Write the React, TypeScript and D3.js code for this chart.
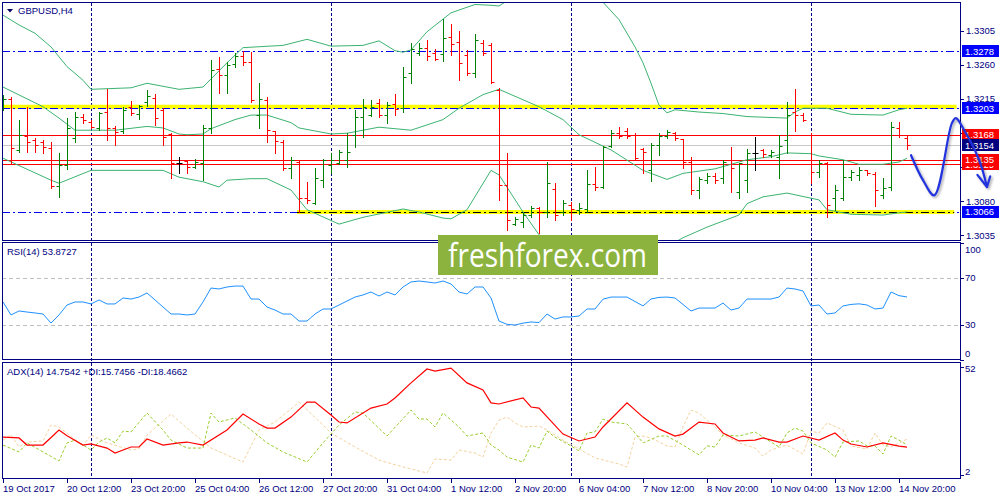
import React, { useEffect, useRef } from 'react';
import * as d3 from 'd3';

type Pt = [number, number];

// ---- data ----
const timeLabels = ['19 Oct 2017', '20 Oct 12:00', '23 Oct 20:00', '25 Oct 04:00', '26 Oct 12:00', '27 Oct 20:00', '31 Oct 04:00', '1 Nov 12:00', '2 Nov 20:00', '6 Nov 04:00', '7 Nov 12:00', '8 Nov 20:00', '10 Nov 04:00', '13 Nov 12:00', '14 Nov 20:00'];
const timeLabelBars = [0, 8, 16, 24, 32, 40, 48, 56, 64, 72, 80, 88, 96, 104, 112];
const weekStartBars = [11, 41, 71, 101];

const opens = [1.3206, 1.3215, 1.3148, 1.3166, 1.3161, 1.3158, 1.3150, 1.3100, 1.3128, 1.3164, 1.3191, 1.3185, 1.3177, 1.3198, 1.3177, 1.3173, 1.3205, 1.3195, 1.3211, 1.3217, 1.3201, 1.3169, 1.3131, 1.3133, 1.3125, 1.3131, 1.3177, 1.3255, 1.3247, 1.3261, 1.3272, 1.3264, 1.3194, 1.3214, 1.3173, 1.3158, 1.3124, 1.3132, 1.3085, 1.3078, 1.3108, 1.3128, 1.3131, 1.3135, 1.3168, 1.3191, 1.3194, 1.3210, 1.3194, 1.3209, 1.3203, 1.3250, 1.3276, 1.3282, 1.3276, 1.3275, 1.3297, 1.3290, 1.3273, 1.3249, 1.3289, 1.3286, 1.3227, 1.3102, 1.3050, 1.3053, 1.3062, 1.3071, 1.3066, 1.3097, 1.3066, 1.3075, 1.3069, 1.3070, 1.3103, 1.3099, 1.3153, 1.3170, 1.3173, 1.3168, 1.3149, 1.3121, 1.3154, 1.3166, 1.3170, 1.3163, 1.3132, 1.3095, 1.3108, 1.3114, 1.3111, 1.3135, 1.3092, 1.3108, 1.3144, 1.3148, 1.3141, 1.3139, 1.3161, 1.3198, 1.3194, 1.3168, 1.3119, 1.3131, 1.3085, 1.3085, 1.3112, 1.3115, 1.3121, 1.3116, 1.3088, 1.3099, 1.3177, 1.3164];
const highs = [1.3220, 1.3218, 1.3188, 1.3205, 1.3164, 1.3161, 1.3158, 1.3144, 1.3190, 1.3198, 1.3195, 1.3188, 1.3198, 1.3228, 1.3180, 1.3205, 1.3213, 1.3207, 1.3227, 1.3222, 1.3203, 1.3170, 1.3139, 1.3135, 1.3136, 1.3181, 1.3267, 1.3271, 1.3264, 1.3276, 1.3279, 1.3277, 1.3236, 1.3218, 1.3173, 1.3161, 1.3139, 1.3135, 1.3106, 1.3124, 1.3136, 1.3144, 1.3148, 1.3170, 1.3201, 1.3215, 1.3214, 1.3215, 1.3211, 1.3222, 1.3257, 1.3289, 1.3289, 1.3293, 1.3281, 1.3321, 1.3314, 1.3305, 1.3280, 1.3301, 1.3293, 1.3289, 1.3230, 1.3144, 1.3059, 1.3065, 1.3074, 1.3073, 1.3132, 1.3104, 1.3082, 1.3079, 1.3078, 1.3121, 1.3125, 1.3153, 1.3174, 1.3178, 1.3177, 1.3170, 1.3150, 1.3157, 1.3170, 1.3174, 1.3172, 1.3163, 1.3139, 1.3112, 1.3118, 1.3118, 1.3135, 1.3152, 1.3131, 1.3149, 1.3165, 1.3149, 1.3148, 1.3168, 1.3211, 1.3228, 1.3197, 1.3170, 1.3135, 1.3132, 1.3102, 1.3135, 1.3121, 1.3125, 1.3122, 1.3119, 1.3111, 1.3185, 1.3185, 1.3168];
const lows = [1.3201, 1.3131, 1.3145, 1.3145, 1.3145, 1.3144, 1.3098, 1.3086, 1.3123, 1.3158, 1.3184, 1.3177, 1.3174, 1.3161, 1.3154, 1.3170, 1.3194, 1.3189, 1.3206, 1.3181, 1.3154, 1.3111, 1.3118, 1.3118, 1.3124, 1.3108, 1.3170, 1.3223, 1.3223, 1.3257, 1.3260, 1.3211, 1.3177, 1.3158, 1.3144, 1.3122, 1.3111, 1.3066, 1.3078, 1.3077, 1.3099, 1.3118, 1.3130, 1.3125, 1.3152, 1.3165, 1.3193, 1.3191, 1.3184, 1.3194, 1.3198, 1.3236, 1.3273, 1.3267, 1.3267, 1.3265, 1.3273, 1.3240, 1.3247, 1.3244, 1.3273, 1.3236, 1.3082, 1.3042, 1.3049, 1.3046, 1.3059, 1.3038, 1.3059, 1.3055, 1.3062, 1.3055, 1.3063, 1.3066, 1.3095, 1.3098, 1.3152, 1.3164, 1.3164, 1.3136, 1.3118, 1.3107, 1.3141, 1.3164, 1.3161, 1.3124, 1.3090, 1.3085, 1.3104, 1.3104, 1.3104, 1.3093, 1.3085, 1.3093, 1.3122, 1.3139, 1.3139, 1.3111, 1.3144, 1.3173, 1.3186, 1.3104, 1.3112, 1.3059, 1.3069, 1.3082, 1.3108, 1.3108, 1.3115, 1.3074, 1.3085, 1.3095, 1.3165, 1.3149];
const closes = [1.3215, 1.3150, 1.3168, 1.3158, 1.3154, 1.3152, 1.3100, 1.3128, 1.3177, 1.3191, 1.3188, 1.3178, 1.3197, 1.3177, 1.3172, 1.3201, 1.3197, 1.3206, 1.3219, 1.3190, 1.3165, 1.3131, 1.3131, 1.3125, 1.3132, 1.3177, 1.3253, 1.3247, 1.3260, 1.3272, 1.3264, 1.3214, 1.3215, 1.3174, 1.3160, 1.3124, 1.3135, 1.3085, 1.3082, 1.3111, 1.3135, 1.3135, 1.3145, 1.3145, 1.3191, 1.3205, 1.3205, 1.3194, 1.3207, 1.3202, 1.3244, 1.3281, 1.3282, 1.3272, 1.3268, 1.3296, 1.3288, 1.3263, 1.3249, 1.3293, 1.3276, 1.3237, 1.3102, 1.3055, 1.3057, 1.3062, 1.3071, 1.3066, 1.3104, 1.3062, 1.3078, 1.3070, 1.3071, 1.3103, 1.3099, 1.3152, 1.3170, 1.3166, 1.3166, 1.3137, 1.3145, 1.3154, 1.3166, 1.3172, 1.3164, 1.3132, 1.3095, 1.3110, 1.3114, 1.3108, 1.3132, 1.3124, 1.3131, 1.3144, 1.3144, 1.3143, 1.3145, 1.3153, 1.3194, 1.3194, 1.3188, 1.3119, 1.3131, 1.3075, 1.3095, 1.3112, 1.3119, 1.3121, 1.3118, 1.3095, 1.3098, 1.3178, 1.3168, 1.3154];

// Bollinger bands, sampled as [bar, price]
const bbUpper: Pt[] = [[0, 1.3326], [2, 1.3313], [4, 1.3302], [6, 1.3284], [8, 1.3258], [10, 1.3240], [11, 1.3228], [16, 1.3230], [18, 1.3236], [20, 1.3232], [22, 1.3228], [25, 1.3231], [28, 1.3263], [30, 1.3283], [35, 1.3286], [38, 1.3294], [41, 1.3285], [45, 1.3286], [47, 1.3292], [49, 1.3279], [50, 1.3277], [51, 1.3280], [53, 1.3304], [56, 1.3329], [59, 1.3340], [61, 1.3339], [62, 1.3338], [64, 1.3352], [67, 1.3362], [70, 1.3366], [73, 1.3358], [75, 1.3343], [77, 1.3320], [79, 1.3284], [80, 1.3263], [81, 1.3236], [82, 1.3207], [83, 1.3197], [84, 1.3201], [87, 1.3198], [90, 1.3196], [93, 1.3192], [98, 1.3190], [99, 1.3198], [100, 1.3203], [103, 1.3203], [106, 1.3195], [110, 1.3194], [112, 1.3201], [113, 1.3203]];
const bbMiddle: Pt[] = [[0, 1.3231], [5, 1.3205], [7, 1.3190], [9, 1.3174], [11, 1.3174], [14, 1.3174], [18, 1.3179], [20, 1.3177], [22, 1.3169], [23, 1.3168], [25, 1.3169], [26, 1.3176], [29, 1.3188], [31, 1.3194], [33, 1.3194], [36, 1.3184], [37, 1.3177], [41, 1.3169], [43, 1.3170], [47, 1.3178], [51, 1.3174], [55, 1.3188], [57, 1.3203], [60, 1.3221], [62, 1.3228], [67, 1.3205], [70, 1.3188], [72, 1.3168], [76, 1.3148], [80, 1.3121], [83, 1.3109], [85, 1.3117], [89, 1.3123], [93, 1.3135], [96, 1.3139], [98, 1.3144], [101, 1.3143], [102, 1.3140], [105, 1.3135], [107, 1.3129], [110, 1.3129], [112, 1.3132], [113, 1.3137]];
const bbLower: Pt[] = [[0, 1.3137], [6, 1.3108], [7, 1.3104], [11, 1.3121], [20, 1.3121], [22, 1.3112], [25, 1.3106], [27, 1.3099], [28, 1.3108], [31, 1.3110], [33, 1.3110], [36, 1.3095], [38, 1.3069], [42, 1.3050], [45, 1.3059], [50, 1.3070], [52, 1.3066], [55, 1.3058], [56, 1.3057], [58, 1.3069], [61, 1.3121], [62, 1.3115], [65, 1.3066], [67, 1.3036], [70, 1.3008], [75, 1.2965], [80, 1.2980], [83, 1.3020], [85, 1.3032], [88, 1.3046], [92, 1.3062], [93, 1.3077], [95, 1.3086], [98, 1.3091], [102, 1.3082], [103, 1.3069], [106, 1.3063], [110, 1.3062], [112, 1.3065], [113, 1.3066]];

// RSI(14), one value per bar
const rsi = [49.6, 38.5, 41.9, 41.0, 40.2, 39.3, 31.6, 38.5, 47.0, 49.6, 49.6, 47.9, 51.3, 47.9, 47.9, 53.0, 52.1, 53.8, 57.3, 51.3, 45.3, 39.3, 39.3, 38.5, 39.3, 49.6, 61.5, 60.7, 62.4, 63.2, 63.2, 52.1, 52.1, 45.3, 42.7, 39.3, 39.3, 33.3, 33.3, 39.3, 43.6, 43.6, 47.0, 50.4, 53.8, 55.6, 58.1, 54.7, 58.1, 55.6, 62.4, 66.7, 67.5, 66.7, 65.8, 67.5, 65.0, 58.1, 56.4, 62.4, 62.4, 53.0, 33.3, 30.5, 29.9, 31.5, 32.5, 32.0, 39.3, 35.0, 36.8, 36.8, 37.6, 43.6, 43.6, 52.0, 53.8, 53.8, 53.8, 50.0, 46.2, 52.1, 53.5, 53.8, 53.0, 47.5, 41.9, 44.4, 44.4, 44.4, 48.7, 42.7, 44.4, 52.1, 52.1, 52.1, 52.1, 53.8, 61.5, 60.7, 59.0, 46.2, 47.0, 39.3, 40.2, 46.2, 47.5, 48.0, 47.0, 43.6, 44.4, 58.1, 55.0, 53.87];
const rsiLevels = [70, 30];
const rsiAxis = [100, 70, 30, 0];

// ADX(14), sampled as [bar, value]
const adx: Pt[] = [[0, 19.4], [2, 19.0], [3, 15.7], [5, 15.7], [7, 22.7], [8, 20.0], [10, 15.7], [11, 16.2], [13, 14.3], [14, 12.0], [16, 14.8], [17, 14.8], [18, 18.5], [20, 15.7], [22, 16.7], [23, 17.1], [25, 15.7], [28, 22.7], [30, 30.1], [32, 25.5], [33, 23.6], [34, 23.6], [36, 28.7], [38, 35.7], [39, 35.7], [41, 29.7], [42, 26.4], [43, 26.0], [46, 32.9], [48, 34.8], [49, 37.6], [51, 44.6], [53, 51.1], [54, 50.1], [56, 51.5], [58, 44.6], [60, 41.3], [61, 35.3], [62, 34.8], [65, 37.6], [66, 33.4], [67, 32.9], [70, 20.8], [72, 17.6], [74, 19.4], [75, 24.1], [78, 35.3], [80, 28.7], [82, 23.2], [84, 19.9], [85, 20.8], [87, 26.4], [89, 25.5], [90, 21.3], [92, 17.6], [94, 18.0], [95, 19.0], [97, 17.1], [98, 17.1], [100, 19.9], [102, 18.0], [104, 21.3], [105, 18.0], [106, 16.2], [108, 14.8], [110, 16.7], [112, 15.2], [113, 14.75]];
const plusDI: Pt[] = [[0, 15.7], [2, 12.5], [3, 16.7], [5, 12.5], [7, 8.3], [8, 16.7], [9, 18.0], [11, 13.4], [12, 17.1], [13, 19.0], [14, 16.7], [15, 22.2], [16, 21.8], [18, 30.6], [20, 22.7], [21, 18.0], [23, 14.3], [25, 14.3], [26, 30.6], [27, 26.4], [29, 28.3], [31, 22.7], [33, 16.7], [35, 12.5], [38, 7.8], [40, 16.7], [42, 25.0], [44, 31.1], [45, 30.6], [48, 19.9], [51, 32.0], [52, 27.8], [53, 27.8], [54, 24.1], [55, 30.6], [57, 24.1], [58, 19.9], [60, 21.3], [61, 15.7], [62, 13.4], [63, 10.1], [65, 7.8], [66, 15.7], [67, 14.3], [68, 22.2], [69, 19.4], [71, 15.3], [72, 13.0], [73, 21.3], [74, 21.8], [75, 27.8], [76, 26.4], [78, 25.5], [79, 21.3], [80, 16.7], [82, 19.9], [83, 19.9], [85, 15.7], [87, 11.1], [88, 15.3], [89, 14.8], [90, 20.4], [92, 19.9], [94, 21.8], [95, 19.4], [97, 14.8], [98, 21.3], [99, 23.6], [100, 22.2], [101, 16.7], [103, 13.4], [104, 10.1], [105, 17.1], [107, 17.6], [108, 15.3], [109, 15.3], [110, 11.5], [111, 19.9], [112, 18.0], [113, 15.75]];
const minusDI: Pt[] = [[0, 18.0], [1, 20.4], [2, 14.8], [3, 17.1], [5, 17.6], [6, 25.0], [7, 24.1], [10, 15.3], [11, 20.4], [13, 16.7], [16, 13.4], [17, 13.9], [18, 20.4], [21, 30.1], [24, 20.4], [25, 17.6], [26, 14.3], [30, 7.8], [32, 22.7], [34, 26.4], [36, 32.5], [37, 35.7], [40, 25.0], [41, 21.3], [44, 14.8], [47, 8.7], [50, 5.5], [53, 2.7], [54, 9.2], [56, 8.7], [57, 13.4], [59, 12.0], [60, 10.1], [61, 21.3], [62, 27.3], [63, 28.7], [64, 26.0], [65, 24.1], [67, 24.5], [68, 22.7], [70, 18.0], [72, 13.9], [74, 9.7], [77, 6.9], [78, 5.5], [79, 19.4], [80, 19.9], [81, 19.0], [83, 15.3], [84, 14.8], [85, 24.1], [86, 32.0], [87, 30.6], [89, 24.1], [90, 20.4], [92, 16.7], [94, 14.3], [95, 10.6], [96, 13.4], [98, 15.7], [100, 11.5], [101, 22.2], [102, 21.3], [103, 26.0], [105, 22.7], [106, 15.3], [108, 13.9], [109, 21.3], [110, 15.7], [111, 14.8], [113, 18.47]];
const adxAxis = [52, 2];

// price axis and chart objects
const priceTicks = [1.3305, 1.3260, 1.3215, 1.3170, 1.3125, 1.3080, 1.3035];
const blueLevels = [1.3278, 1.3203, 1.3066];
const redLevels = [1.3129, 1.3135, 1.3168];
const bidPrice = 1.3154;
const zonePrices = [1.3205, 1.3066];
const zoneFromBars = [-1, 37];
const zoneToBars = [119.2, 118.9];
// hand-drawn forecast arrow, as [bar, price]
const forecast: Pt[] = [[113.5, 1.3141], [115, 1.3108], [116.4, 1.3088], [118.6, 1.3183], [119.1, 1.3190], [120.1, 1.3175], [122, 1.3135], [123, 1.3099]];
const forecastHead: Pt[] = [[121.8, 1.3115], [123, 1.3099], [123.4, 1.3113]];

const App: React.FC = () => {
  const svgRef = useRef<SVGSVGElement>(null);

  useEffect(() => {
    if (!svgRef.current) return;
    const svg = d3.select(svgRef.current);
    svg.selectAll('*').remove();

    const navy = '#000080';
    const font = "'Liberation Sans', Tahoma, Arial, sans-serif";
    const crisp = (v: number) => Math.round(v) + 0.5;
    const L = 2, R = 960;

    const x = d3.scaleLinear().domain([0, 113]).range([3, 907]);
    const yP = d3.scaleLinear().domain([1.3305, 1.3066]).range([31, 212]);
    const yR = d3.scaleLinear().domain([0, 100]).range([360, 243]);
    const yA = d3.scaleLinear().domain([2, 52]).range([474.5, 367]);

    const defs = svg.append('defs');
    const panes = [
      { id: 'cMain', top: 2, bottom: 240 },
      { id: 'cRsi', top: 242, bottom: 359 },
      { id: 'cAdx', top: 362, bottom: 478 },
    ];
    panes.forEach(p => {
      defs.append('clipPath').attr('id', p.id)
        .append('rect').attr('x', L + 1).attr('y', p.top + 1)
        .attr('width', R - L - 1).attr('height', p.bottom - p.top - 1);
    });
    defs.append('filter').attr('id', 'soft')
      .attr('x', '-5%').attr('y', '-300%').attr('width', '110%').attr('height', '700%')
      .append('feGaussianBlur').attr('stdDeviation', 1.8);
    defs.append('filter').attr('id', 'pen')
      .attr('x', '-50%').attr('y', '-20%').attr('width', '200%').attr('height', '140%')
      .append('feDropShadow').attr('dx', 1.5).attr('dy', 1.5).attr('stdDeviation', 1)
      .attr('flood-color', '#000').attr('flood-opacity', 0.35);

    svg.append('rect').attr('width', 1000).attr('height', 500).attr('fill', '#fff');

    // week separators through all panes
    svg.append('g').selectAll('line').data(weekStartBars).join('line')
      .attr('x1', d => crisp(x(d))).attr('x2', d => crisp(x(d)))
      .attr('y1', 3).attr('y2', 478)
      .attr('stroke', navy).attr('stroke-dasharray', '3,2');

    // ---------- main pane ----------
    const main = svg.append('g').attr('clip-path', 'url(#cMain)');

    main.selectAll('line.red').data(redLevels).join('line').attr('class', 'red')
      .attr('x1', L).attr('x2', R)
      .attr('y1', d => crisp(yP(d))).attr('y2', d => crisp(yP(d)))
      .attr('stroke', '#ff0000');
    main.append('line').attr('x1', L).attr('x2', R)
      .attr('y1', crisp(yP(bidPrice))).attr('y2', crisp(yP(bidPrice)))
      .attr('stroke', '#c8c8c8');
    main.selectAll('line.blue').data(blueLevels).join('line').attr('class', 'blue')
      .attr('x1', L).attr('x2', R)
      .attr('y1', d => crisp(yP(d))).attr('y2', d => crisp(yP(d)))
      .attr('stroke', '#0000ee').attr('stroke-dasharray', '8,3,2,3');

    // yellow highlighted levels with a soft shadow
    zonePrices.forEach((p, i) => {
      const x1 = Math.max(L, x(zoneFromBars[i]) - 2);
      const x2 = x(zoneToBars[i]);
      const yy = yP(p);
      svg.append('line').attr('x1', x1).attr('x2', x2).attr('y1', yy + 3).attr('y2', yy + 3)
        .attr('stroke', '#555').attr('stroke-width', 5).attr('opacity', 0.55).attr('filter', 'url(#soft)');
      svg.append('line').attr('x1', x1).attr('x2', x2).attr('y1', yy).attr('y2', yy)
        .attr('stroke', '#ffff00').attr('stroke-width', 4);
    });
    // dash-dot on top of the yellow
    svg.append('line').attr('x1', L).attr('x2', R)
      .attr('y1', crisp(yP(1.3203))).attr('y2', crisp(yP(1.3203)))
      .attr('stroke', '#0000ee').attr('stroke-dasharray', '8,3,2,3');
    svg.append('line').attr('x1', x(zoneFromBars[1]) - 2).attr('x2', x(zoneToBars[1]))
      .attr('y1', crisp(yP(zonePrices[1]))).attr('y2', crisp(yP(zonePrices[1])))
      .attr('stroke', '#000').attr('stroke-dasharray', '8,3,2,3');

    const main2 = svg.append('g').attr('clip-path', 'url(#cMain)');
    const bbLine = d3.line<Pt>().x(d => x(d[0])).y(d => yP(d[1]));
    [bbUpper, bbMiddle, bbLower].forEach(s => {
      main2.append('path').attr('d', bbLine(s) || '')
        .attr('fill', 'none').attr('stroke', '#3cb371').attr('stroke-width', 1);
    });

    const bars = d3.range(opens.length).map(i => ({ i, o: opens[i], h: highs[i], l: lows[i], c: closes[i] }));
    const colorOf = (b: { o: number; c: number }) => (b.c > b.o ? '#008000' : b.c < b.o ? '#ff0000' : '#000000');
    const bg = main2.selectAll('g.bar').data(bars).join('g').attr('class', 'bar')
      .attr('stroke', d => colorOf(d)).attr('stroke-width', 1);
    bg.append('line')
      .attr('x1', d => x(d.i) + 0.5).attr('x2', d => x(d.i) + 0.5)
      .attr('y1', d => Math.round(yP(d.h))).attr('y2', d => Math.round(yP(d.l)) + 1);
    bg.append('line')
      .attr('x1', d => x(d.i) - 2.5).attr('x2', d => x(d.i) + 0.5)
      .attr('y1', d => crisp(yP(d.o))).attr('y2', d => crisp(yP(d.o)));
    bg.append('line')
      .attr('x1', d => x(d.i) + 0.5).attr('x2', d => x(d.i) + 3.5)
      .attr('y1', d => crisp(yP(d.c))).attr('y2', d => crisp(yP(d.c)));

    // ---------- RSI pane ----------
    const rsiG = svg.append('g').attr('clip-path', 'url(#cRsi)');
    rsiG.selectAll('line').data(rsiLevels).join('line')
      .attr('x1', L).attr('x2', R)
      .attr('y1', d => crisp(yR(d))).attr('y2', d => crisp(yR(d)))
      .attr('stroke', '#c0c0c0').attr('stroke-dasharray', '4,3');
    const rsiLine = d3.line<number>().x((_, i) => x(i)).y(d => yR(d));
    rsiG.append('path').attr('d', rsiLine(rsi) || '')
      .attr('fill', 'none').attr('stroke', '#1e90ff').attr('stroke-width', 1);

    // ---------- ADX pane ----------
    const adxG = svg.append('g').attr('clip-path', 'url(#cAdx)');
    const adxLine = d3.line<Pt>().x(d => x(d[0])).y(d => yA(d[1]));
    adxG.append('path').attr('d', adxLine(minusDI) || '')
      .attr('fill', 'none').attr('stroke', '#f5d2a0').attr('stroke-dasharray', '3,2');
    adxG.append('path').attr('d', adxLine(plusDI) || '')
      .attr('fill', 'none').attr('stroke', '#9acd32').attr('stroke-dasharray', '3,2');
    adxG.append('path').attr('d', adxLine(adx) || '')
      .attr('fill', 'none').attr('stroke', '#ff0000').attr('stroke-width', 1.2);

    // ---------- frames ----------
    panes.forEach(p => {
      svg.append('rect').attr('x', L + 0.5).attr('y', p.top + 0.5)
        .attr('width', R - L).attr('height', p.bottom - p.top)
        .attr('fill', 'none').attr('stroke', navy);
    });

    // ---------- right axes ----------
    const axisText = (g: d3.Selection<SVGGElement, unknown, null, undefined>) =>
      g.attr('font-family', font).attr('font-size', 9.5).attr('fill', navy);

    const tagPrices = [...redLevels, bidPrice, ...blueLevels];
    const pAxis = svg.append('g').call(axisText);
    priceTicks.forEach(t => {
      const yy = crisp(yP(t));
      pAxis.append('line').attr('x1', R).attr('x2', R + 4).attr('y1', yy).attr('y2', yy).attr('stroke', navy);
      // labels that sit fully behind a coloured tag are not visible in the terminal
      const hidden = tagPrices.some(p => Math.abs(yP(p) - yP(t)) < 5);
      if (!hidden) pAxis.append('text').attr('x', 966).attr('y', yP(t)).attr('dy', '0.35em').text(t.toFixed(4));
    });
    rsiAxis.forEach(v => {
      const yy = crisp(yR(v));
      pAxis.append('line').attr('x1', R).attr('x2', R + 4).attr('y1', yy).attr('y2', yy).attr('stroke', navy);
      pAxis.append('text').attr('x', 965).attr('y', Math.min(353.5, Math.max(249.5, yR(v))))
        .attr('dy', '0.35em').text(String(v));
    });
    adxAxis.forEach(v => {
      const yy = crisp(yA(v));
      pAxis.append('line').attr('x1', R).attr('x2', R + 4).attr('y1', yy).attr('y2', yy).attr('stroke', navy);
      pAxis.append('text').attr('x', 965).attr('y', Math.min(472, Math.max(369, yA(v))))
        .attr('dy', '0.35em').text(String(v));
    });

    // coloured price tags (the 1.3129 tag peeks out below the 1.3135 one)
    const tags = [
      ...redLevels.map(p => ({ p, fill: '#ff0000' })),
      { p: bidPrice, fill: '#000080' },
      ...blueLevels.map(p => ({ p, fill: '#0000ff' })),
    ];
    const under = yP(redLevels[1]) + 6;
    defs.append('clipPath').attr('id', 'cPeek')
      .append('rect').attr('x', 955).attr('y', Math.round(under)).attr('width', 45).attr('height', 20);
    tags.forEach((t, i) => {
      const yy = yP(t.p);
      pAxis.append('rect').attr('x', 962).attr('y', Math.round(yy) - 6).attr('width', 37).attr('height', 12).attr('fill', t.fill);
      const txt = pAxis.append('text').attr('x', 965).attr('y', yy).attr('dy', '0.35em').attr('fill', '#fff').text(t.p.toFixed(4));
      if (i === 0) txt.attr('clip-path', 'url(#cPeek)');
    });

    // ---------- time axis ----------
    const tAxis = svg.append('g').call(axisText);
    timeLabelBars.forEach((b, i) => {
      const xx = crisp(x(b));
      tAxis.append('line').attr('x1', xx).attr('x2', xx).attr('y1', 478).attr('y2', 483).attr('stroke', navy);
      tAxis.append('text').attr('x', x(b)).attr('y', 491.5).text(timeLabels[i]);
    });

    // ---------- captions ----------
    svg.append('path').attr('d', 'M7,9 L13,9 L10,12.5 Z').attr('fill', '#000060');
    const cap = svg.append('g').call(axisText);
    cap.append('text').attr('x', 18).attr('y', 14).text('GBPUSD,H4');
    cap.append('text').attr('x', 7).attr('y', 255).text('RSI(14) 53.8727');
    cap.append('text').attr('x', 7).attr('y', 375).text('ADX(14) 14.7542 +DI:15.7456 -DI:18.4662');

    // ---------- watermark ----------
    svg.append('rect').attr('x', 438).attr('y', 235).attr('width', 220).attr('height', 40).attr('fill', '#8db33f');
    svg.append('text').attr('x', 448).attr('y', 267)
      .attr('font-family', "'Open Sans', 'Noto Sans', sans-serif").attr('font-size', 32)
      .attr('fill', '#fff').attr('textLength', 199).attr('lengthAdjust', 'spacingAndGlyphs')
      .text('freshforex.com');

    // ---------- hand-drawn forecast arrow ----------
    const pen = svg.append('g').attr('filter', 'url(#pen)')
      .attr('fill', 'none').attr('stroke', '#2233dd').attr('stroke-width', 2.2)
      .attr('stroke-linecap', 'round').attr('stroke-linejoin', 'round');
    const penLine = d3.line<Pt>().x(d => x(d[0])).y(d => yP(d[1])).curve(d3.curveCatmullRom.alpha(0.5));
    pen.append('path').attr('d', penLine(forecast) || '');
    pen.append('path').attr('d', d3.line<Pt>().x(d => x(d[0])).y(d => yP(d[1]))(forecastHead) || '');
  }, []);

  return (
    <svg
      ref={svgRef}
      width={1000}
      height={500}
      style={{ position: 'fixed', left: 0, top: 0, display: 'block' }}
    />
  );
};

export default App;
